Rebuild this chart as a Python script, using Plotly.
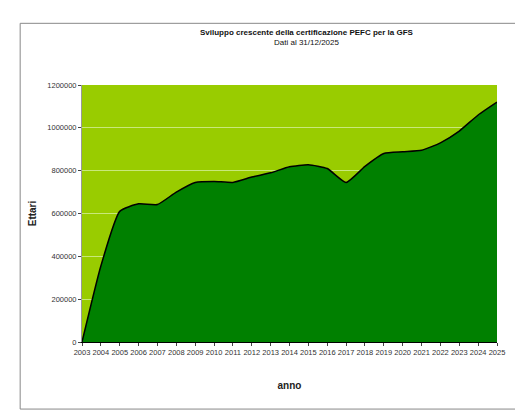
import plotly.graph_objects as go

anni = [str(a) for a in range(2003, 2026)]
ettari = [0, 355000, 610000, 645000, 642000, 700000, 745000, 750000, 745000,
          770000, 790000, 818000, 828000, 810000, 745000, 820000, 880000,
          888000, 895000, 930000, 985000, 1060000, 1120000]

fig = go.Figure()
fig.add_trace(go.Scatter(x=anni, y=ettari, mode='lines', fill='tozeroy',
                         fillcolor='#008000', line=dict(color='black', width=1.5,
                                                        shape='spline', smoothing=0.5)))

fig.update_layout(
    width=523, height=415,
    paper_bgcolor='white', plot_bgcolor='#99CC00',
    margin=dict(l=74, r=34, t=77, b=81, autoexpand=False),
    showlegend=False,
    font=dict(family='Liberation Sans, Arial', size=8, color='#333'),
    annotations=[dict(text='<b>Sviluppo crescente della certificazione PEFC per la GFS</b><br>Dati al 31/12/2025',
                      xref='paper', yref='paper', x=0.28, y=1.23, showarrow=False,
                      font=dict(size=8, color='#111'))],
    shapes=[dict(type='rect', xref='paper', yref='paper', x0=-0.149, x1=1.058,
                 y0=-0.261, y1=1.24, line=dict(color='#888', width=1))],
)
fig.update_xaxes(type='category', range=[0, 22], showgrid=False, ticks='outside',
                 ticklen=3, tickangle=0, tickfont=dict(size=7.5), linecolor='black',
                 automargin=False,
                 title=dict(text='<b>anno</b>', font=dict(size=10, color='#222'), standoff=25))
fig.update_yaxes(range=[0, 1200000], dtick=200000, tickformat='d', automargin=False,
                 gridcolor='#c8e87a', showline=True, linecolor='#999', ticks='outside', ticklen=3,
                 tickfont=dict(size=7.5), zeroline=False,
                 title=dict(text='<b>Ettari</b>', font=dict(size=10, color='#222'), standoff=8))

fig.write_html("out.html")
